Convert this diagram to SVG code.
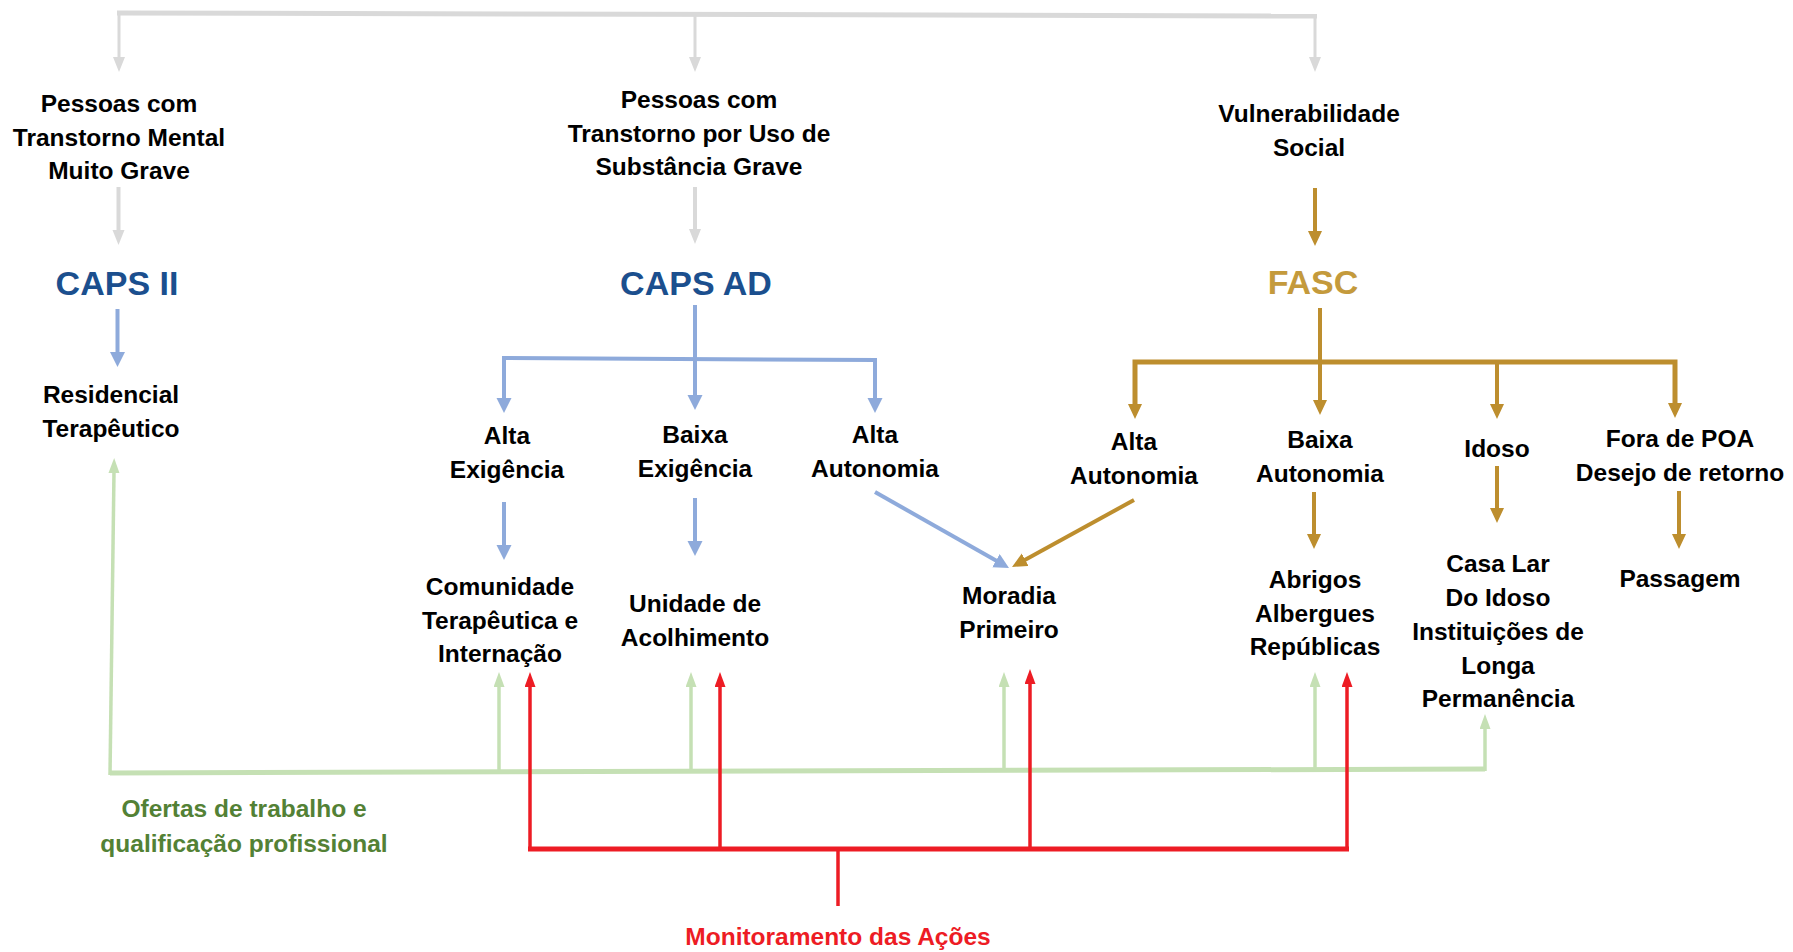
<svg xmlns="http://www.w3.org/2000/svg" width="1793" height="952" viewBox="0 0 1793 952">
<style>
  .t{font-family:"Liberation Sans",Arial,sans-serif;font-weight:bold;font-size:24.5px;fill:#000;text-anchor:middle}
  .h{font-family:"Liberation Sans",Arial,sans-serif;font-weight:bold;font-size:34px;text-anchor:middle}
  .caps{fill:#1B4F8E}
  .fasc{fill:#C49A3C}
  .gt{fill:#538135}
  .rt{fill:#ED1C24}
  .gray{stroke:#D9D9D9;fill:none}
  .blue{stroke:#8EAADB;fill:none}
  .gold{stroke:#BD8E2E;fill:none}
  .green{stroke:#C5E0B4;fill:none}
  .red{stroke:#ED1C24;fill:none}
</style>
<defs>
  <marker id="aGray" markerUnits="userSpaceOnUse" markerWidth="16" markerHeight="14" refX="2" refY="6" orient="auto"><path d="M0,0 L15,6 L0,12 z" fill="#D9D9D9"/></marker>
  <marker id="aBlue" markerUnits="userSpaceOnUse" markerWidth="16" markerHeight="16" refX="2" refY="7.5" orient="auto"><path d="M0,0 L15,7.5 L0,15 z" fill="#8EAADB"/></marker>
  <marker id="aGold" markerUnits="userSpaceOnUse" markerWidth="16" markerHeight="16" refX="2" refY="7" orient="auto"><path d="M0,0 L15,7 L0,14 z" fill="#BD8E2E"/></marker>
  <marker id="aGreen" markerUnits="userSpaceOnUse" markerWidth="16" markerHeight="14" refX="2" refY="5.5" orient="auto"><path d="M0,0 L15,5.5 L0,11 z" fill="#C5E0B4"/></marker>
  <marker id="aRed" markerUnits="userSpaceOnUse" markerWidth="16" markerHeight="14" refX="2" refY="5.5" orient="auto"><path d="M0,0 L15,5.5 L0,11 z" fill="#ED1C24"/></marker>
</defs>

<g id="connectors">
  <!-- top gray bracket -->
  <path class="gray" stroke-width="5" d="M117,13 L1317,16"/>
  <line class="gray" stroke-width="3" x1="119" y1="13" x2="119" y2="59" marker-end="url(#aGray)"/>
  <line class="gray" stroke-width="3" x1="695" y1="14" x2="695" y2="59" marker-end="url(#aGray)"/>
  <line class="gray" stroke-width="3" x1="1315" y1="16" x2="1315" y2="59" marker-end="url(#aGray)"/>
  <line class="gray" stroke-width="4" x1="118.5" y1="187" x2="118.5" y2="232" marker-end="url(#aGray)"/>
  <line class="gray" stroke-width="4" x1="695" y1="187" x2="695" y2="231" marker-end="url(#aGray)"/>

  <!-- blue -->
  <line class="blue" stroke-width="4" x1="117.5" y1="309" x2="117.5" y2="354" marker-end="url(#aBlue)"/>
  <line class="blue" stroke-width="4" x1="695" y1="305" x2="695" y2="397" marker-end="url(#aBlue)"/>
  <path class="blue" stroke-width="4" d="M504,400 L504,358 L875,360 L875,400" marker-end="url(#aBlue)"/>
  <line class="blue" stroke-width="4" x1="504" y1="380" x2="504" y2="400" marker-end="url(#aBlue)"/>
  <line class="blue" stroke-width="4" x1="504" y1="502" x2="504" y2="547" marker-end="url(#aBlue)"/>
  <line class="blue" stroke-width="4" x1="695" y1="498" x2="695" y2="543" marker-end="url(#aBlue)"/>
  <line class="blue" stroke-width="4" x1="875" y1="492" x2="997.7" y2="561.6" marker-end="url(#aBlue)"/>

  <!-- gold -->
  <line class="gold" stroke-width="4" x1="1315" y1="188" x2="1315" y2="233" marker-end="url(#aGold)"/>
  <line class="gold" stroke-width="4" x1="1320" y1="308" x2="1320" y2="402" marker-end="url(#aGold)"/>
  <path class="gold" stroke-width="5" d="M1135,406 L1135,362 L1675,362 L1675,405" marker-end="url(#aGold)"/>
  <line class="gold" stroke-width="4" x1="1135" y1="380" x2="1135" y2="406" marker-end="url(#aGold)"/>
  <line class="gold" stroke-width="4" x1="1497" y1="362" x2="1497" y2="406" marker-end="url(#aGold)"/>
  <line class="gold" stroke-width="4" x1="1134" y1="500" x2="1023.4" y2="560.7" marker-end="url(#aGold)"/>
  <line class="gold" stroke-width="4" x1="1314" y1="492" x2="1314" y2="536" marker-end="url(#aGold)"/>
  <line class="gold" stroke-width="4" x1="1497" y1="466" x2="1497" y2="510" marker-end="url(#aGold)"/>
  <line class="gold" stroke-width="4" x1="1679" y1="491" x2="1679" y2="536" marker-end="url(#aGold)"/>

  <!-- green -->
  <path class="green" stroke-width="5" d="M110,773 L1485,769"/>
  <line class="green" stroke-width="3.5" x1="110" y1="775" x2="114" y2="471" marker-end="url(#aGreen)"/>
  <line class="green" stroke-width="3.5" x1="499" y1="772" x2="499" y2="685" marker-end="url(#aGreen)"/>
  <line class="green" stroke-width="3.5" x1="691" y1="772" x2="691" y2="685" marker-end="url(#aGreen)"/>
  <line class="green" stroke-width="3.5" x1="1004" y1="771" x2="1004" y2="685" marker-end="url(#aGreen)"/>
  <line class="green" stroke-width="3.5" x1="1315" y1="770" x2="1315" y2="685" marker-end="url(#aGreen)"/>
  <line class="green" stroke-width="3.5" x1="1485" y1="771" x2="1485" y2="727" marker-end="url(#aGreen)"/>

  <!-- red -->
  <path class="red" stroke-width="5" d="M528,849 L1349,849"/>
  <line class="red" stroke-width="3.5" x1="838" y1="849" x2="838" y2="906"/>
  <line class="red" stroke-width="3.5" x1="530" y1="851" x2="530" y2="685" marker-end="url(#aRed)"/>
  <line class="red" stroke-width="3.5" x1="720" y1="849" x2="720" y2="685" marker-end="url(#aRed)"/>
  <line class="red" stroke-width="3.5" x1="1030" y1="849" x2="1030" y2="682" marker-end="url(#aRed)"/>
  <line class="red" stroke-width="3.5" x1="1347" y1="849" x2="1347" y2="685" marker-end="url(#aRed)"/>
</g>

<g id="n_mental"><text class="t" x="119" y="112"><tspan x="119">Pessoas com</tspan><tspan x="119" dy="33.5">Transtorno Mental</tspan><tspan x="119" dy="33.5">Muito Grave</tspan></text></g>
<g id="n_substancia"><text class="t" x="699" y="108"><tspan x="699">Pessoas com</tspan><tspan x="699" dy="33.5">Transtorno por Uso de</tspan><tspan x="699" dy="33.5">Substância Grave</tspan></text></g>
<g id="n_vulner"><text class="t" x="1309" y="122"><tspan x="1309">Vulnerabilidade</tspan><tspan x="1309" dy="33.5">Social</tspan></text></g>

<g id="n_caps2"><text class="h caps" x="117" y="295">CAPS II</text></g>
<g id="n_capsad"><text class="h caps" x="696" y="295">CAPS AD</text></g>
<g id="n_fasc"><text class="h fasc" x="1313" y="294" font-size="33">FASC</text></g>

<g id="n_residencial"><text class="t" x="111" y="403"><tspan x="111">Residencial</tspan><tspan x="111" dy="34">Terapêutico</tspan></text></g>
<g id="n_altaexig"><text class="t" x="507" y="444"><tspan x="507">Alta</tspan><tspan x="507" dy="33.5">Exigência</tspan></text></g>
<g id="n_baixaexig"><text class="t" x="695" y="443"><tspan x="695">Baixa</tspan><tspan x="695" dy="33.5">Exigência</tspan></text></g>
<g id="n_altaaut1"><text class="t" x="875" y="443"><tspan x="875">Alta</tspan><tspan x="875" dy="33.5">Autonomia</tspan></text></g>
<g id="n_altaaut2"><text class="t" x="1134" y="450"><tspan x="1134">Alta</tspan><tspan x="1134" dy="34">Autonomia</tspan></text></g>
<g id="n_baixaaut"><text class="t" x="1320" y="448"><tspan x="1320">Baixa</tspan><tspan x="1320" dy="34">Autonomia</tspan></text></g>
<g id="n_idoso"><text class="t" x="1497" y="457">Idoso</text></g>
<g id="n_fora"><text class="t" x="1680" y="447"><tspan x="1680">Fora de POA</tspan><tspan x="1680" dy="34">Desejo de retorno</tspan></text></g>

<g id="n_comunidade"><text class="t" x="500" y="595"><tspan x="500">Comunidade</tspan><tspan x="500" dy="33.5">Terapêutica e</tspan><tspan x="500" dy="33.5">Internação</tspan></text></g>
<g id="n_unidade"><text class="t" x="695" y="612"><tspan x="695">Unidade de</tspan><tspan x="695" dy="33.5">Acolhimento</tspan></text></g>
<g id="n_moradia"><text class="t" x="1009" y="604"><tspan x="1009">Moradia</tspan><tspan x="1009" dy="33.5">Primeiro</tspan></text></g>
<g id="n_abrigos"><text class="t" x="1315" y="588"><tspan x="1315">Abrigos</tspan><tspan x="1315" dy="33.5">Albergues</tspan><tspan x="1315" dy="33.5">Repúblicas</tspan></text></g>
<g id="n_casalar"><text class="t" x="1498" y="572"><tspan x="1498">Casa Lar</tspan><tspan x="1498" dy="34">Do Idoso</tspan><tspan x="1498" dy="34">Instituições de</tspan><tspan x="1498" dy="33.5">Longa</tspan><tspan x="1498" dy="33.5">Permanência</tspan></text></g>
<g id="n_passagem"><text class="t" x="1680" y="587">Passagem</text></g>

<g id="n_ofertas"><text class="t gt" x="244" y="817"><tspan x="244">Ofertas de trabalho e</tspan><tspan x="244" dy="34.5">qualificação profissional</tspan></text></g>
<g id="n_monitor"><text class="t rt" x="838" y="945">Monitoramento das Ações</text></g>
</svg>
